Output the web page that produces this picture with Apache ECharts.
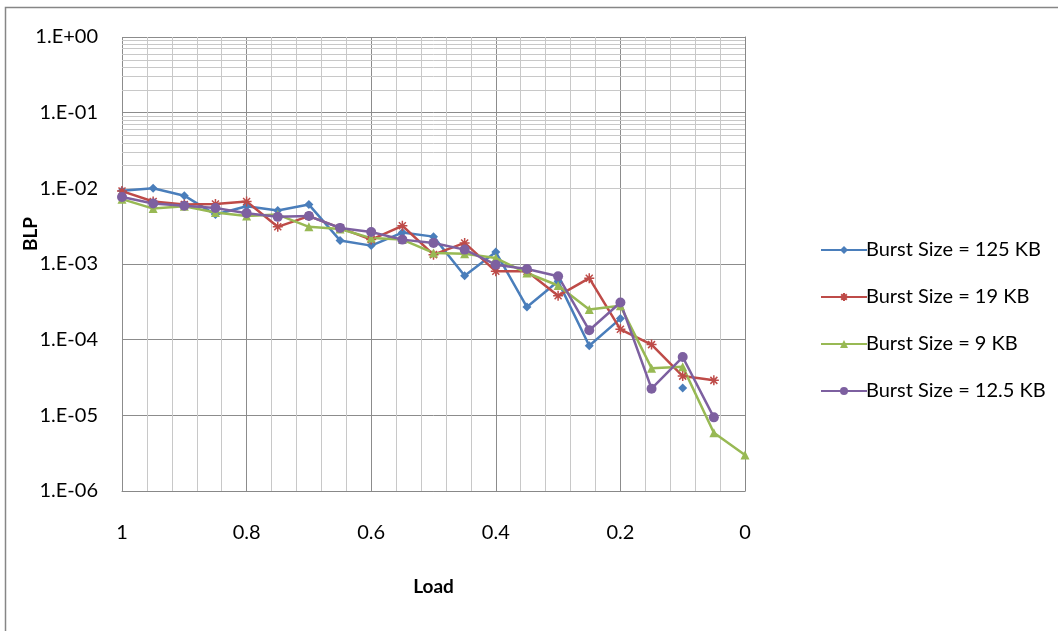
<!DOCTYPE html>
<html>
<head>
<meta charset="utf-8">
<script src="https://cdn.jsdelivr.net/npm/echarts@6/dist/echarts.min.js"></script>
<style>html,body{margin:0;padding:0;background:#fff;}#c{width:1058px;height:631px;}</style>
</head>
<body>
<div id="c"></div>
<script>
const loads = [1, 0.95, 0.9, 0.85, 0.8, 0.75, 0.7, 0.65, 0.6, 0.55, 0.5, 0.45, 0.4, 0.35, 0.3, 0.25, 0.2, 0.15, 0.1, 0.05, 0];
const seriesNames = ['Burst Size = 125 KB', 'Burst Size = 19 KB', 'Burst Size = 9 KB', 'Burst Size = 12.5 KB'];
const blp125 = [0.0093, 0.0100, 0.0080, 0.0045, 0.0058, 0.0051, 0.0061, 0.00205, 0.00175, 0.0026, 0.0023, 0.0007, 0.00144, 0.00027, 0.00059, 0.000083, 0.00019, null, 0.000023, null, null];
const blp19 = [0.0092, 0.0067, 0.0061, 0.0062, 0.0067, 0.0031, 0.0043, 0.0030, 0.0021, 0.0032, 0.00133, 0.0019, 0.0008, 0.0008, 0.00038, 0.00065, 0.000137, 0.000086, 0.000033, 0.000029, null];
const blp9 = [0.0072, 0.0054, 0.0058, 0.0048, 0.0043, 0.0045, 0.0031, 0.0029, 0.0022, 0.0021, 0.0014, 0.00137, 0.0012, 0.00076, 0.00052, 0.00025, 0.00028, 0.000042, 0.000044, 0.0000059, 0.0000030];
const blp125k = [0.0077, 0.0063, 0.0059, 0.0055, 0.0047, 0.0042, 0.0043, 0.0030, 0.00265, 0.0021, 0.0019, 0.00155, 0.00098, 0.00086, 0.00069, 0.000133, 0.00031, 0.0000225, 0.000059, 0.0000094, null];
const xTicks = [1, 0.8, 0.6, 0.4, 0.2, 0];
const yDecades = [1e-6, 1e-5, 1e-4, 1e-3, 1e-2, 1e-1, 1];
const minorMultipliers = [2, 3, 4, 5, 6, 7, 8, 9];

const colors = ['#4A7EBB', '#BE4B48', '#98B954', '#7D60A0'];
const symbols = ['diamond', 'path://M5,0 L5,10 M0,5 L10,5 M1.5,1.5 L8.5,8.5 M8.5,1.5 L1.5,8.5', 'triangle', 'circle'];
const symbolSizes = [9, 10, 9, 10];
const datasets = [blp125, blp19, blp9, blp125k];

const minorLines = [];
yDecades.slice(0, -1).forEach(d => minorMultipliers.forEach(m => minorLines.push({ yAxis: m * d })));

const fontFamily = 'Lato, "Open Sans", sans-serif';

function fmtY(v) {
  const e = Math.round(Math.log10(v));
  return '1.E' + (e < 0 ? '-' : '+') + String(Math.abs(e)).padStart(2, '0');
}

const series = datasets.map((arr, i) => ({
  name: seriesNames[i],
  type: 'line',
  data: loads.map((x, j) => [x, arr[j]]),
  symbol: symbols[i],
  symbolSize: symbolSizes[i],
  showSymbol: true,
  connectNulls: false,
  z: 5,
  lineStyle: { color: colors[i], width: 2.5 },
  itemStyle: i === 1 ? { color: colors[i], borderColor: colors[i], borderWidth: 1.5 } : { color: colors[i] },
  emphasis: { disabled: true },
  animation: false
}));

series.push({
  name: 'minor',
  type: 'line',
  data: [],
  silent: true,
  z: 1,
  markLine: {
    silent: true,
    symbol: 'none',
    label: { show: false },
    lineStyle: { color: '#c8c8c8', width: 1, type: 'solid' },
    emphasis: { disabled: true },
    animation: false,
    data: minorLines
  }
});

const chart = echarts.init(document.getElementById('c'), null, { renderer: 'canvas' });
chart.setOption({
  animation: false,
  backgroundColor: '#ffffff',
  textStyle: { fontFamily: fontFamily },
  grid: { left: 122, top: 37, width: 623, height: 454, containLabel: false },
  xAxis: {
    type: 'value',
    inverse: true,
    min: 0,
    max: 1,
    interval: 0.2,
    axisLine: { show: true, lineStyle: { color: '#888888', width: 1 } },
    axisTick: { show: false },
    axisLabel: { fontSize: 20, color: '#000', margin: 32, fontFamily: fontFamily, formatter: v => String(Math.round(v * 10) / 10) },
    splitLine: { show: true, lineStyle: { color: '#8c8c8c', width: 1 } },
    minorTick: { show: false, splitNumber: 5 },
    minorSplitLine: { show: true, lineStyle: { color: '#c8c8c8', width: 1 } },
    name: 'Load',
    nameLocation: 'middle',
    nameGap: 86,
    nameTextStyle: { fontSize: 19, fontWeight: 'bold', color: '#000', fontFamily: fontFamily }
  },
  yAxis: {
    type: 'log',
    logBase: 10,
    min: 1e-6,
    max: 1,
    splitNumber: 6,
    axisLine: { show: true, lineStyle: { color: '#888888', width: 1 } },
    axisTick: { show: false },
    axisLabel: { fontSize: 20, color: '#000', margin: 24, fontFamily: fontFamily, formatter: fmtY },
    splitLine: { show: true, lineStyle: { color: '#8c8c8c', width: 1 } }
  },
  legend: {
    orient: 'vertical',
    left: 815,
    top: 234,
    itemWidth: 46,
    itemHeight: 10,
    itemGap: 25,
    data: seriesNames,
    textStyle: { fontSize: 20, color: '#000', fontFamily: fontFamily, lineHeight: 22, padding: [0, 0, 0, -6] },
    selectedMode: false
  },
  graphic: [
    {
      type: 'rect',
      shape: { x: 5.5, y: 7.5, width: 1100, height: 700 },
      style: { fill: 'none', stroke: '#868686', lineWidth: 1.5 },
      silent: true,
      z: -10
    },
    {
      type: 'text',
      x: 31,
      y: 234,
      rotation: Math.PI / 2,
      style: { text: 'BLP', fontSize: 19, fontWeight: 'bold', fill: '#000', fontFamily: fontFamily, align: 'center', verticalAlign: 'middle' },
      silent: true
    }
  ],
  series: series
});
</script>
</body>
</html>
